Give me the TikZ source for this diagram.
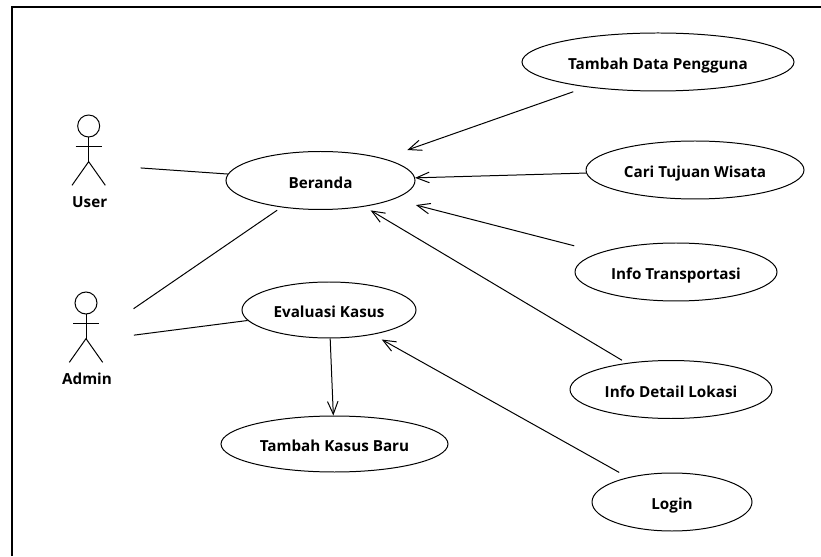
\documentclass[tikz,border=0pt]{standalone}
\usepackage{fontspec}
\setmainfont{Open Sans}
\usetikzlibrary{arrows.meta,shapes.geometric}
\tikzset{
	usecase/.style={draw, ellipse, inner sep=0pt, line width=0.85pt, text height=13.6pt, text depth=0pt, font=\fontsize{13}{15}\selectfont\bfseries},
	link/.style={line width=0.85pt},
	arrowlink/.style={line width=0.85pt, -{Straight Barb[length=11pt,width=9pt]}},
	actorlabel/.style={font=\fontsize{13}{15}\selectfont\bfseries}
}
% head at (#2, #3), then body, arms and legs below it
\def\actor(#1)(#2,#3)#4{
	\draw[line width=0.85pt] (#2, #3) circle (0.33);
	\draw[line width=0.85pt] (#2, #3-0.33) -- (#2, #3-1.07);
	\draw[line width=0.85pt] (#2-0.39, #3-0.61) -- (#2+0.39, #3-0.61);
	\draw[line width=0.85pt] (#2-0.5, #3-1.78) -- (#2, #3-1.07) -- (#2+0.5, #3-1.78);
	\node[actorlabel] (#1label) at (#2+0.03, #3-2.28) {#4};
	\coordinate (#1) at (#2, #3-1.15);
}

\begin{document}
\begin{tikzpicture}
		%%%%% START %%%%%
		\useasboundingbox (0, 0) rectangle (24.63, 16.68);
		\draw[line width=2.3pt] (0.36, 0) -- (0.36, 16.47) -- (24.63, 16.47);
		
		\actor(user)(2.66, 12.9){User}
		\actor(admin)(2.58, 7.59){Admin}
		
		\node[usecase, minimum width=5.67cm, minimum height=1.74cm] (beranda) at (9.615, 11.265) {Beranda};
		\node[usecase, minimum width=8.16cm, minimum height=1.74cm] (tambahdata) at (19.74, 14.82) {Tambah Data Pengguna};
		\node[usecase, minimum width=6.54cm, minimum height=1.74cm] (caritujuan) at (20.85, 11.58) {Cari Tujuan Wisata};
		\node[usecase, minimum width=6.06cm, minimum height=1.74cm] (infotrans) at (20.28, 8.52) {Info Transportasi};
		\node[usecase, minimum width=6.06cm, minimum height=1.74cm] (infodetail) at (20.13, 4.995) {Info Detail Lokasi};
		\node[usecase, minimum width=4.8cm, minimum height=1.74cm] (login) at (20.16, 1.62) {Login};
		\node[usecase, minimum width=5.22cm, minimum height=1.68cm] (evaluasi) at (9.87, 7.38) {Evaluasi Kasus};
		\node[usecase, minimum width=6.81cm, minimum height=1.68cm] (tambahkasus) at (10.035, 3.36) {Tambah Kasus Baru};
		
		\draw[link, shorten <=1.56cm] (user) -- (beranda);
		\draw[link, shorten <=1.73cm, shorten >=0.15cm] (admin) -- (beranda);
		\draw[link, shorten <=1.45cm] (admin) -- (evaluasi);
		
		\draw[arrowlink, shorten <=0.42cm, shorten >=0.76cm] (tambahdata) -- (beranda);
		\draw[arrowlink] (caritujuan) -- (beranda);
		\draw[arrowlink, shorten <=0.8cm, shorten >=0.69cm] (infotrans) -- (beranda);
		\draw[arrowlink, shorten <=0.16cm, shorten >=0.22cm] (infodetail) -- (beranda);
		\draw[arrowlink, shorten <=0.3cm, shorten >=0.3cm] (login) -- (evaluasi);
		\draw[arrowlink] (evaluasi) -- (tambahkasus);
		%%%%% END %%%%%
	\end{tikzpicture}
\end{document}
